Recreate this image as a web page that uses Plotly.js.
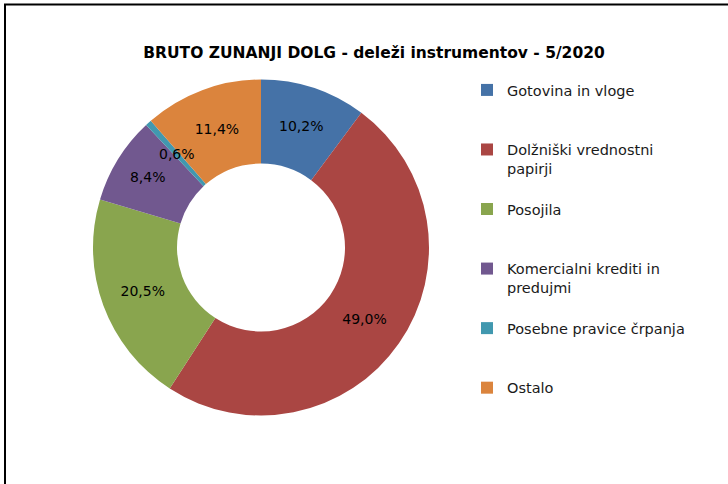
<!DOCTYPE html>
<html>
<head>
<meta charset="utf-8">
<script src="https://cdn.plot.ly/plotly-3.0.1.min.js"></script>
<style>html,body{margin:0;padding:0;background:#fff;}#chart{width:728px;height:484px;}</style>
</head>
<body>
<div id="chart"></div>
<script>
// Data
const categories = ["Gotovina in vloge", "Dolžniški vrednostni<br>papirji", "Posojila", "Komercialni krediti in<br>predujmi", "Posebne pravice črpanja", "Ostalo"];
const shares = [10.2, 49.0, 20.5, 8.4, 0.6, 11.4];
const colors = ["#4572A7", "#AA4643", "#89A54E", "#71588F", "#4198AF", "#DB843D"];

// legend labels padded to 3 lines so entries are evenly spaced like the original
const legendLabels = categories.map(c => {
  const n = c.split("<br>").length;
  return c + "<br> ".repeat(3 - n);
});

const W = 728, H = 484;
const domX = [93 / W, 429 / W];
const domY = [1 - 415.5 / H, 1 - 79.5 / H];
const hole = 0.5;
const FONT = "DejaVu Sans, sans-serif";

// small slice label placed at mid-angle / mid-ring (like the original), computed from data
const total = shares.reduce((a, b) => a + b, 0);
const annotations = [];
const textpos = shares.map(v => (v < 2 ? "none" : "inside"));
let cum = 0;
const cx = (domX[0] + domX[1]) / 2 * W;
const cy = (1 - (domY[0] + domY[1]) / 2) * H;
const R = Math.min((domX[1] - domX[0]) * W, (domY[1] - domY[0]) * H) / 2;
shares.forEach((v, i) => {
  const mid = (cum + v / 2) / total * 2 * Math.PI;
  cum += v;
  if (v < 2) {
    const r = R * (1 + hole) / 2;
    const px = cx + r * Math.sin(mid);
    const py = cy - r * Math.cos(mid);
    annotations.push({
      x: px / W, y: 1 - py / H, xref: "paper", yref: "paper",
      xanchor: "center", yanchor: "middle",
      text: v.toFixed(1).replace(".", ",") + "%", showarrow: false,
      font: {family: FONT, size: 14, color: "#000"}
    });
  }
});

const trace = {
  type: "pie",
  labels: legendLabels,
  values: shares,
  hole: hole,
  sort: false,
  direction: "clockwise",
  rotation: 0,
  marker: {colors: colors, line: {color: "rgba(0,0,0,0)", width: 0}},
  texttemplate: "%{value:.1f}%",
  textposition: textpos,
  insidetextorientation: "horizontal",
  textfont: {family: FONT, size: 14, color: "#000"},
  domain: {x: domX, y: domY},
  hoverinfo: "label+percent"
};

const layout = {
  width: W, height: H,
  margin: {l: 0, r: 0, t: 0, b: 0},
  paper_bgcolor: "#fff",
  separators: ",.",
  title: {
    text: "<b>BRUTO ZUNANJI DOLG - deleži instrumentov - 5/2020</b>",
    x: 374 / W, xanchor: "center", y: 1 - 53 / H, yanchor: "middle",
    font: {family: FONT, size: 15.5, color: "#000"}
  },
  showlegend: true,
  legend: {
    x: 467 / W, xanchor: "left", y: 1 - 74 / H, yanchor: "top",
    font: {family: FONT, size: 14.5, color: "#1a1a1a"},
    valign: "top", bgcolor: "rgba(0,0,0,0)", traceorder: "normal"
  },
  annotations: annotations,
  shapes: [
    {type: "line", xref: "paper", yref: "paper", x0: 5 / W, x1: 5 / W, y0: 0, y1: 1 - 4 / H, line: {color: "#000", width: 2}},
    {type: "line", xref: "paper", yref: "paper", x0: 4 / W, x1: 1, y0: 1 - 4.5 / H, y1: 1 - 4.5 / H, line: {color: "#000", width: 2}}
  ]
};

Plotly.newPlot("chart", [trace], layout, {displayModeBar: false, staticPlot: true});
</script>
</body>
</html>
